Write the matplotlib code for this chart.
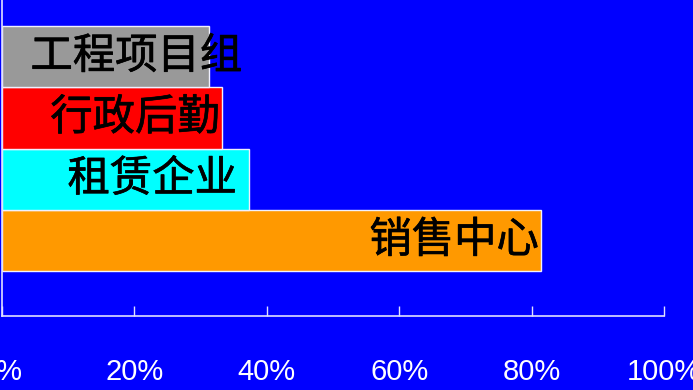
import matplotlib
matplotlib.use("Agg")
import matplotlib.pyplot as plt
import matplotlib.patheffects as pe

categories = ["销售中心", "租赁企业", "行政后勤", "工程项目组"]
values = [81.4, 37.3, 33.2, 31.3]
colors = ["#FF9900", "#00FFFF", "#FF0000", "#999999"]
label_x = [81.1, 35.5, 32.9, 36.3]
xticks = [0, 20, 40, 60, 80, 100]
xtick_labels = ["0%", "20%", "40%", "60%", "80%", "100%"]

fig = plt.figure(figsize=(6.93, 3.9), dpi=100)
fig.patch.set_facecolor("#0000FF")
ax = fig.add_axes([2/693, 74/390, 662/693, 316/390])
ax.set_facecolor("#0000FF")

ypos = list(range(len(categories)))
ax.barh(ypos, values, height=1.0, color=colors, edgecolor="#F0F0FF", linewidth=1.0)

for y, lab, lx in zip(ypos, categories, label_x):
    ax.text(lx, y, lab, ha="right", va="center", fontsize=30.5, color="black",
            family=["Noto Sans CJK SC", "DejaVu Sans"],
            path_effects=[pe.withStroke(linewidth=0.5, foreground="black")])

ax.set_xlim(0, 100)
ax.set_ylim(-1.232, 3.923)
ax.set_xticks(xticks)
ax.set_xticklabels(xtick_labels, family=["Liberation Sans", "DejaVu Sans"],
                   fontsize=21, color="white")
ax.set_yticks([])
ax.tick_params(axis="x", direction="in", length=7.5, width=1.0, color="#E0E0FF", pad=30)
for s in ["top", "right"]:
    ax.spines[s].set_visible(False)
for s in ["left", "bottom"]:
    ax.spines[s].set_color("#E0E0FF")
    ax.spines[s].set_linewidth(1.2)
for lbl in ax.get_xticklabels():
    lbl.set_clip_on(False)

fig.savefig("out.png", dpi=100, facecolor=fig.get_facecolor())
